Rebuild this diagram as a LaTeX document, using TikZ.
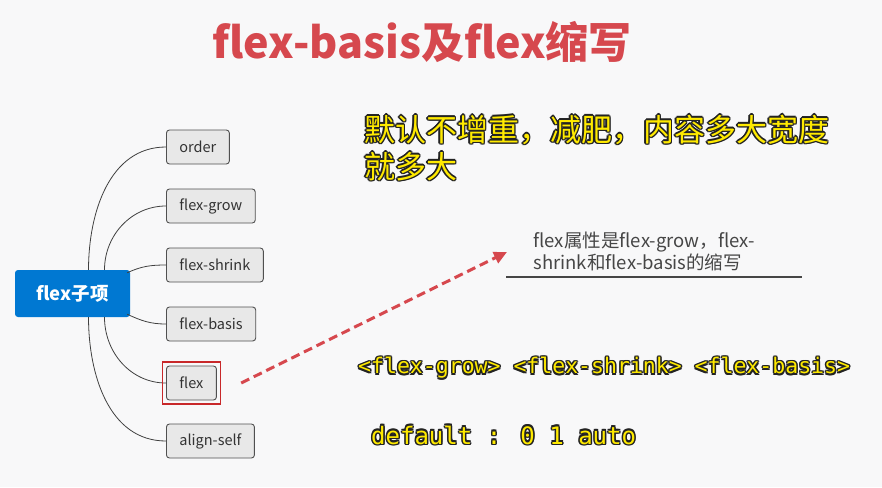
\documentclass[tikz,border=0pt]{standalone}
\usepackage{fontspec}
\setmainfont{Noto Sans CJK SC}
\newfontfamily\monofont{DejaVu Sans Mono}
\usetikzlibrary{arrows.meta, positioning, fit}

\definecolor{bgcol}{RGB}{248,248,249}
\definecolor{titlered}{RGB}{214,72,78}
\definecolor{rootblue}{RGB}{0,120,210}
\definecolor{itemfill}{RGB}{232,232,232}
\definecolor{itemline}{RGB}{80,80,80}
\definecolor{glowyellow}{RGB}{255,234,0}
\definecolor{glowdark}{RGB}{35,35,35}
\definecolor{notegray}{RGB}{70,70,70}

% yellow text with a dark outline
\newcommand{\glowcopy}[3]{%
  \rlap{\hspace*{#1}\raisebox{#2}{\textcolor{glowdark}{#3}}}}
\newcommand{\glow}[1]{%
  \leavevmode
  \glowcopy{1.5pt}{0pt}{#1}\glowcopy{-1.5pt}{0pt}{#1}%
  \glowcopy{0pt}{1.5pt}{#1}\glowcopy{0pt}{-1.5pt}{#1}%
  \glowcopy{1.1pt}{1.1pt}{#1}\glowcopy{1.1pt}{-1.1pt}{#1}%
  \glowcopy{-1.1pt}{1.1pt}{#1}\glowcopy{-1.1pt}{-1.1pt}{#1}%
  \textcolor{glowyellow}{#1}}

\begin{document}
\begin{tikzpicture}[
        x=1pt, y=-1pt,
        root/.style={rectangle, rounded corners=3pt, fill=rootblue, text=white,
            minimum width=115pt, minimum height=47pt,
            font=\fontsize{18.5}{20}\selectfont\bfseries},
        item/.style={rectangle, rounded corners=3pt, draw=itemline, fill=itemfill,
            line width=0.9pt, minimum height=34pt, inner xsep=13pt, anchor=west,
            text=black!80, font=\fontsize{14.5}{16}\selectfont},
        branch/.style={draw=black!75, line width=0.8pt},
        arrow/.style={-{Triangle[length=13pt, width=12pt]}, titlered, line width=3pt,
            dash pattern=on 9pt off 5pt},
        yellowtext/.style={anchor=west, align=left, inner sep=0pt}
    ]
        \fill[bgcol] (0,0) rectangle (882,487);

        % Title
        \node[text=titlered, font=\fontsize{43}{46}\selectfont\bfseries] (title) at (422,42) {flex-basis及flex缩写};

        % Mind map nodes
        \node[root] (root) at (72.5,293.5) {flex子项};
        \node[item] (order) at (166,147) {order};
        \node[item] (grow) at (166,206) {flex-grow};
        \node[item] (shrink) at (166,265) {flex-shrink};
        \node[item] (basis) at (166,324) {flex-basis};
        \node[item] (flex) at (166,383) {flex};
        \node[item] (self) at (166,441) {align-self};

        % Branches
        \draw[branch] ([xshift=16pt]root.north) to[out=90, in=180] (order.west);
        \draw[branch] ([xshift=32pt]root.north) to[out=90, in=180] (grow.west);
        \draw[branch] ([xshift=-3pt, yshift=-3pt]root.north east) to[out=25, in=180] (shrink.west);
        \draw[branch] ([xshift=-3pt, yshift=3pt]root.south east) to[out=-25, in=180] (basis.west);
        \draw[branch] ([xshift=32pt]root.south) to[out=-90, in=180] (flex.west);
        \draw[branch] ([xshift=16pt]root.south) to[out=-90, in=180] (self.west);

        % Highlight of flex
        \node[draw={rgb,255:red,200;green,40;blue,42}, line width=1.5pt, inner sep=3.5pt, fit=(flex)] (flexmark) {};

        % Note
        \node[anchor=west, align=left, text=notegray, font=\fontsize{18.5}{22}\selectfont] (note) at (530,251)
            {flex属性是flex-grow，flex-\\shrink和flex-basis的缩写};
        \coordinate (lineleft) at (506,277);
        \coordinate (lineright) at (802,277);
        \draw[notegray, line width=1.2pt] (lineleft) -- (lineright);
        \coordinate (tip) at (507,252);
        \draw[arrow] ([xshift=20pt]flexmark.east) -- (tip);

        % Yellow remarks
        \node[yellowtext, font=\fontsize{31}{37}\selectfont] (remark) at (364,148)
            {\glow{默认不增重，减肥，内容多大宽度}\\\glow{就多大}};
        \node[yellowtext, font=\monofont\fontsize{21.5}{24}\selectfont] (syntax) at (358,368)
            {\glow{<flex-grow> <flex-shrink> <flex-basis>}};
        \node[yellowtext, font=\monofont\fontsize{24}{26}\selectfont] (default) at (371,435)
            {\glow{default : 0 1 auto}};
    \end{tikzpicture}
\end{document}
